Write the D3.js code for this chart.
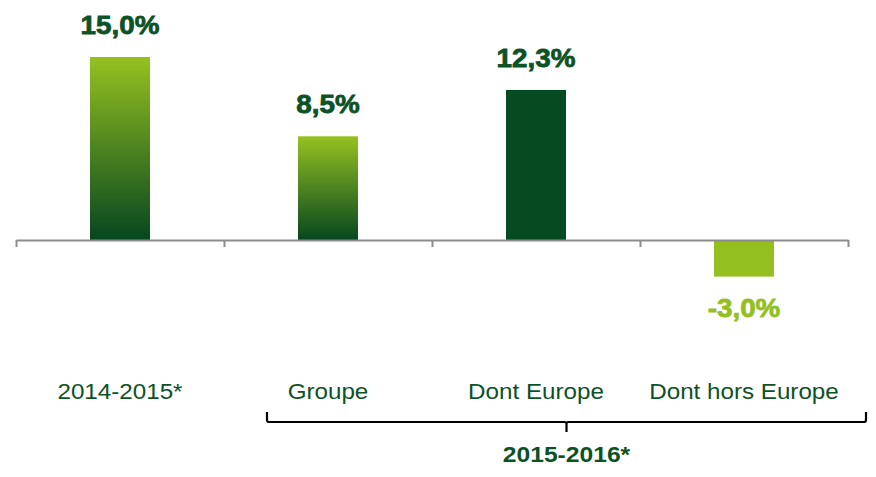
<!DOCTYPE html>
<html>
<head>
<meta charset="utf-8">
<script src="https://cdn.jsdelivr.net/npm/d3@7"></script>
<style>
  body { margin: 0; background: #fff; }
  text { font-family: "Liberation Sans", Arial, sans-serif; }
</style>
</head>
<body>
<svg id="chart" width="876" height="477"></svg>
<script>
// data
const categories = ["2014-2015*", "Groupe", "Dont Europe", "Dont hors Europe"];
const values = [15.0, 8.5, 12.3, -3.0];
const valueLabels = ["15,0%", "8,5%", "12,3%", "-3,0%"];
const fills = ["grad", "grad", "dark", "light"];
const groupLabel = "2015-2016*";

const darkGreen = "#054a20";
const lightGreen = "#93c01f";
const textGreen = "#0b5226";

const svg = d3.select("#chart");

const defs = svg.append("defs");
const grad = defs.append("linearGradient")
    .attr("id", "barGrad")
    .attr("x1", 0).attr("y1", 0).attr("x2", 0).attr("y2", 1);
grad.append("stop").attr("offset", "0%").attr("stop-color", "#95c11f");
grad.append("stop").attr("offset", "100%").attr("stop-color", "#06461f");

const x = d3.scaleBand()
    .domain(categories)
    .range([16, 848]);

const y = d3.scaleLinear()
    .domain([0, 15])
    .range([240, 57]);

const barW = 60;
const colorOf = f => f === "grad" ? "url(#barGrad)" : (f === "dark" ? darkGreen : lightGreen);

// bars
svg.selectAll(".bar")
    .data(categories)
    .enter().append("rect")
    .attr("class", "bar")
    .attr("x", d => x(d) + x.bandwidth() / 2 - barW / 2)
    .attr("y", (d, i) => y(Math.max(0, values[i])))
    .attr("width", barW)
    .attr("height", (d, i) => Math.abs(y(values[i]) - y(0)))
    .attr("fill", (d, i) => colorOf(fills[i]));

// axis (ticks at category boundaries)
const edges = d3.scaleLinear().domain([0, categories.length]).range(x.range());
const axis = svg.append("g")
    .attr("transform", `translate(0,${y(0)})`)
    .call(d3.axisBottom(edges).ticks(categories.length).tickSize(7).tickSizeOuter(0).tickFormat(""));
axis.select(".domain").attr("stroke", "#8c8c8c").attr("stroke-width", 2);
axis.selectAll(".tick line").attr("stroke", "#8c8c8c").attr("stroke-width", 2);

// value labels
svg.selectAll(".val")
    .data(categories)
    .enter().append("text")
    .attr("class", "val")
    .attr("transform", (d, i) => {
      const cx = x(d) + x.bandwidth() / 2;
      const by = values[i] >= 0 ? y(values[i]) - 23 : y(values[i]) + 40;
      return `translate(${cx},${by}) scale(1.07,1)`;
    })
    .attr("text-anchor", "middle")
    .attr("font-size", 26)
    .attr("font-weight", "bold")
    .attr("fill", (d, i) => values[i] >= 0 ? textGreen : lightGreen)
    .attr("stroke", (d, i) => values[i] >= 0 ? textGreen : lightGreen)
    .attr("stroke-width", 0.8)
    .text((d, i) => valueLabels[i]);

// category labels
svg.selectAll(".cat")
    .data(categories)
    .enter().append("text")
    .attr("class", "cat")
    .attr("transform", d => `translate(${x(d) + x.bandwidth() / 2},399) scale(1.1,1)`)
    .attr("text-anchor", "middle")
    .attr("font-size", 22)
    .attr("fill", textGreen)
    .text(d => d);

// brace under the 2015-2016 group
const bl = edges(1) + 43, br = edges(4) + 18, bm = (bl + br) / 2;
const bt = 412, bh = 422, bb = 432;
svg.append("path")
    .attr("d", `M${bl},${bt} L${bl},${bh - 2} Q${bl},${bh} ${bl + 2},${bh} L${bm - 2},${bh} Q${bm},${bh} ${bm},${bh + 2} L${bm},${bb}
                M${bm},${bh + 2} Q${bm},${bh} ${bm + 2},${bh} L${br - 2},${bh} Q${br},${bh} ${br},${bh - 2} L${br},${bt}`)
    .attr("fill", "none")
    .attr("stroke", "#000")
    .attr("stroke-width", 2.2);

svg.append("text")
    .attr("transform", `translate(${bm},462) scale(1.12,1)`)
    .attr("text-anchor", "middle")
    .attr("font-size", 22)
    .attr("font-weight", "bold")
    .attr("fill", textGreen)
    .text(groupLabel);
</script>
</body>
</html>
